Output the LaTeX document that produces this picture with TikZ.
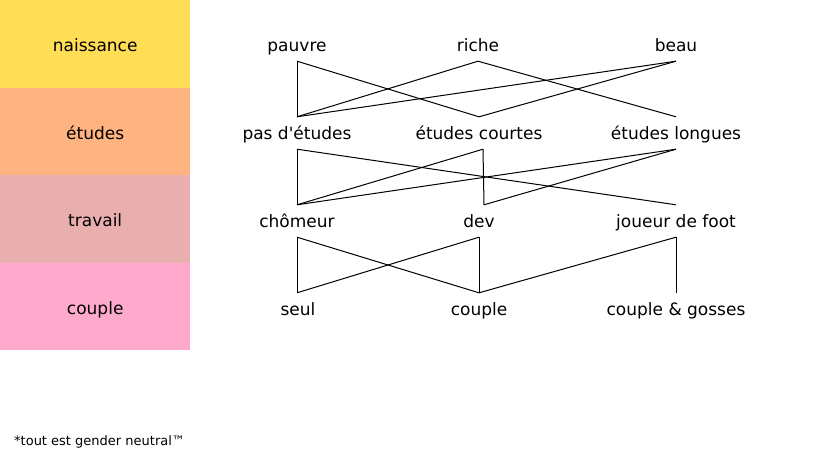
\documentclass[tikz,border=0pt]{standalone}
\usepackage{fontspec}
\setmainfont{DejaVu Sans}
\definecolor{cNais}{HTML}{FFDD55}
\definecolor{cEtud}{HTML}{FFB380}
\definecolor{cTrav}{HTML}{E9AFAF}
\definecolor{cCoup}{HTML}{FFAACC}
\begin{document}
\begin{tikzpicture}[x=1pt,y=-1pt,
  band/.style={draw=none,inner sep=0pt,minimum width=190pt,minimum height=87.5pt,text height=16pt,text depth=0pt,font=\fontsize{17}{20}\selectfont},
  item/.style={inner sep=0pt,text height=14pt,text depth=1.5pt,minimum height=32pt,font=\fontsize{17}{20}\selectfont},
  link/.style={draw=black,line width=1pt}]
\useasboundingbox (0,0) rectangle (820,462);
% bands
\node[band,fill=cNais,anchor=north west] (bN) at (0,0) {naissance};
\node[band,fill=cEtud,anchor=north west] (bE) at (0,87.5) {études};
\node[band,fill=cTrav,anchor=north west] (bT) at (0,175) {travail};
\node[band,fill=cCoup,anchor=north west] (bC) at (0,262.5) {couple};
% row 1
\node[item] (pauvre) at (297,45) {pauvre};
\node[item] (riche) at (478,45) {riche};
\node[item] (beau) at (676,45) {beau};
% row 2
\node[item] (pas) at (297,133) {pas d\textquotesingle études};
\node[item] (courtes) at (479,133) {études courtes};
\node[item] (longues) at (676,133) {études longues};
% row 3
\node[item] (chom) at (297,221) {chômeur};
\node[item] (dev) at (479,221) {dev};
\node[item] (foot) at (676,221) {joueur de foot};
% row 4
\node[item] (seul) at (298,309) {seul};
\node[item] (couple) at (479,309) {couple};
\node[item] (gosses) at (676,309) {couple \& gosses};
% links row1-row2
\draw[link] (pauvre.south -| pas.south) -- (pas.north);
\draw[link] (pauvre.south -| pas.south) -- (courtes.north);
\draw[link] (riche.south) -- (pas.north);
\draw[link] (riche.south) -- (longues.north);
\draw[link] (beau.south) -- (pas.north);
\draw[link] (beau.south) -- (courtes.north);
% links row2-row3
\draw[link] (pas.south) -- (chom.north);
\draw[link] (pas.south) -- (foot.north);
\draw[link] ([xshift=4pt]courtes.south) -- (chom.north);
\draw[link] ([xshift=4pt]courtes.south) -- ([xshift=5pt]dev.north);
\draw[link] (longues.south) -- (chom.north);
\draw[link] (longues.south) -- ([xshift=5pt]dev.north);
% links row3-row4
\draw[link] (chom.south) -- (seul.north -| chom.south);
\draw[link] (chom.south) -- (couple.north);
\draw[link] (dev.south) -- (seul.north -| chom.south);
\draw[link] (dev.south) -- (couple.north);
\draw[link] (foot.south) -- (couple.north);
\draw[link] (foot.south) -- (gosses.north);
% footnote
\node[anchor=west,inner sep=0pt,font=\fontsize{13}{15}\selectfont] (note) at (14,441.5) {*tout est gender neutral™};
\end{tikzpicture}
\end{document}
